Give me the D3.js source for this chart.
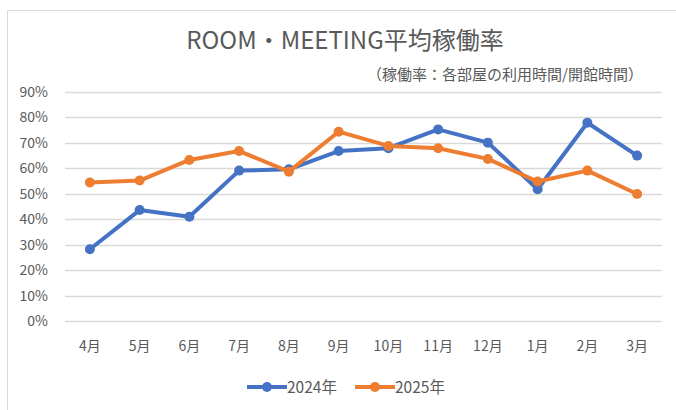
<html>
<head>
<meta charset="utf-8">
<style>
  body { margin: 0; background: #fff; }
  svg text { font-family: "Noto Sans CJK JP", "Noto Sans", sans-serif; fill: #595959; }
</style>
</head>
<body>
<script src="https://cdn.jsdelivr.net/npm/d3@7"></script>
<svg id="chart" width="676" height="410"></svg>
<script>
  // data
  let months = ["4月", "5月", "6月", "7月", "8月", "9月", "10月", "11月", "12月", "1月", "2月", "3月"];
  let rate2024 = [0.282, 0.436, 0.41, 0.591, 0.596, 0.668, 0.679, 0.753, 0.701, 0.518, 0.779, 0.65];
  let rate2025 = [0.544, 0.552, 0.633, 0.668, 0.587, 0.744, 0.688, 0.679, 0.637, 0.548, 0.591, 0.499];
  let yTicks = [0, 0.1, 0.2, 0.3, 0.4, 0.5, 0.6, 0.7, 0.8, 0.9];
  let seriesNames = ["2024年", "2025年"];
  let colors = ["#4472C4", "#ED7D31"];

  let svg = d3.select("#chart");

  // outer frame
  svg.append("rect")
      .attr("x", 7.5).attr("y", 10.5)
      .attr("width", 700).attr("height", 420)
      .attr("fill", "none").attr("stroke", "#d9d9d9");

  svg.append("text")
      .attr("x", 345).attr("y", 49)
      .attr("text-anchor", "middle")
      .style("font-size", "24px")
      .text("ROOM・MEETING平均稼働率");

  svg.append("text")
      .attr("x", 643).attr("y", 80)
      .attr("text-anchor", "end")
      .style("font-size", "15px")
      .text("（稼働率：各部屋の利用時間/開館時間）");

  let plotLeft = 65, plotRight = 662, plotTop = 92, plotBottom = 321;

  let x = d3.scaleBand().domain(months).range([plotLeft, plotRight]);
  let y = d3.scaleLinear().domain([0, 0.9]).range([plotBottom, plotTop]);

  // gridlines
  svg.append("g")
      .selectAll("line")
      .data(yTicks)
      .enter()
      .append("line")
      .attr("x1", plotLeft).attr("x2", plotRight)
      .attr("y1", d => Math.round(y(d)) + 0.5)
      .attr("y2", d => Math.round(y(d)) + 0.5)
      .attr("stroke", "#d9d9d9")
      .attr("stroke-width", 1.3);

  let yAxis = d3.axisLeft(y).tickValues(yTicks).tickFormat(d3.format(".0%")).tickSize(0).tickPadding(17);
  let yG = svg.append("g")
      .attr("transform", `translate(${plotLeft},0)`)
      .call(yAxis);
  yG.select(".domain").remove();
  yG.selectAll("text").style("font-size", "14px").style("fill", "#595959");

  let xAxis = d3.axisBottom(x).tickSize(0).tickPadding(20);
  let xG = svg.append("g")
      .attr("transform", `translate(0,${plotBottom})`)
      .call(xAxis);
  xG.select(".domain").remove();
  xG.selectAll("text").style("font-size", "14px").style("fill", "#595959");

  let cx = d => x(d) + x.bandwidth() / 2;

  let lineGenerator = d3.line()
      .x((d, i) => cx(months[i]))
      .y(d => y(d));

  [rate2024, rate2025].forEach((series, k) => {
    svg.append("path")
        .datum(series)
        .attr("d", lineGenerator)
        .attr("fill", "none")
        .attr("stroke", colors[k])
        .attr("stroke-width", 4)
        .attr("stroke-linejoin", "round");
    svg.append("g")
        .selectAll("circle")
        .data(series)
        .enter()
        .append("circle")
        .attr("cx", (d, i) => cx(months[i]))
        .attr("cy", d => y(d))
        .attr("r", 5)
        .attr("fill", colors[k]);
  });

  // legend
  let legend = svg.append("g").attr("transform", "translate(247,387)");
  seriesNames.forEach((name, k) => {
    let g = legend.append("g").attr("transform", `translate(${k * 108},0)`);
    g.append("line")
        .attr("x1", 0).attr("x2", 40)
        .attr("stroke", colors[k]).attr("stroke-width", 4);
    g.append("circle").attr("cx", 20).attr("r", 5).attr("fill", colors[k]);
    g.append("text")
        .attr("x", 40).attr("y", 5.5)
        .style("font-size", "15.5px")
        .text(name);
  });
</script>
</body>
</html>
